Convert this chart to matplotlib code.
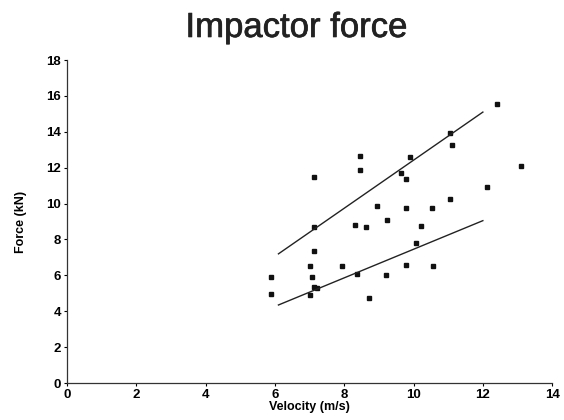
import matplotlib
matplotlib.use("Agg")
import matplotlib.pyplot as plt
import matplotlib.patheffects as pe

# impact velocity (m/s) and measured impactor force (kN)
velocity = [12.41, 11.05, 11.10, 8.45, 9.90, 8.45, 7.14, 9.64, 9.77, 13.11,
            12.11, 11.05, 8.94, 9.78, 10.52, 9.22, 8.31, 8.63, 10.20, 7.14,
            10.07, 7.14, 7.00, 7.92, 9.78, 10.56, 7.06, 8.38, 9.20, 5.88,
            5.88, 7.12, 7.22, 7.00, 8.70]
force = [15.53, 13.92, 13.27, 12.65, 12.60, 11.86, 11.50, 11.72, 11.39, 12.08,
         10.93, 10.27, 9.85, 9.74, 9.74, 9.09, 8.83, 8.70, 8.77, 8.70,
         7.80, 7.36, 6.52, 6.54, 6.56, 6.54, 5.91, 6.09, 6.04, 5.93,
         4.94, 5.37, 5.30, 4.90, 4.76]

# bounding lines
line_x = [6.1, 12.0]
upper_y = [7.2, 15.1]
lower_y = [4.35, 9.05]

x_ticks = [0, 2, 4, 6, 8, 10, 12, 14]
y_ticks = [0, 2, 4, 6, 8, 10, 12, 14, 16, 18]

plt.rcParams["font.family"] = ["Liberation Sans", "DejaVu Sans"]

fig = plt.figure(figsize=(5.64, 4.2), dpi=100)
ax = fig.add_axes([0.119, 0.088, 0.86, 0.769])

ax.plot(velocity, force, linestyle="none", marker="s", markersize=3.2,
        color="#111111")
ax.plot(line_x, upper_y, color="#222222", linewidth=1.0)
ax.plot(line_x, lower_y, color="#222222", linewidth=1.0)

ax.set_xlim(0, 14)
ax.set_ylim(0, 18)
ax.set_xticks(x_ticks)
ax.set_yticks(y_ticks)
ax.tick_params(direction="out", length=2.5, width=0.8, labelsize=9.5, pad=2)
for lab in ax.get_xticklabels() + ax.get_yticklabels():
    lab.set_fontweight("bold")

for side in ("top", "right"):
    ax.spines[side].set_visible(False)
for side in ("left", "bottom"):
    ax.spines[side].set_linewidth(0.9)
    ax.spines[side].set_color("#333333")

ax.set_xlabel("Velocity (m/s)", fontsize=9, fontweight="bold", labelpad=0)
ax.set_ylabel("Force (kN)", fontsize=9, fontweight="bold", labelpad=14)

# title strokes are a little heavier than regular weight in the original
fig.text(0.526, 0.912, "Impactor force", fontsize=25, ha="center",
         va="baseline", color="#222222",
         path_effects=[pe.withStroke(linewidth=0.5, foreground="#222222")])

fig.savefig("out.png", dpi=100)
